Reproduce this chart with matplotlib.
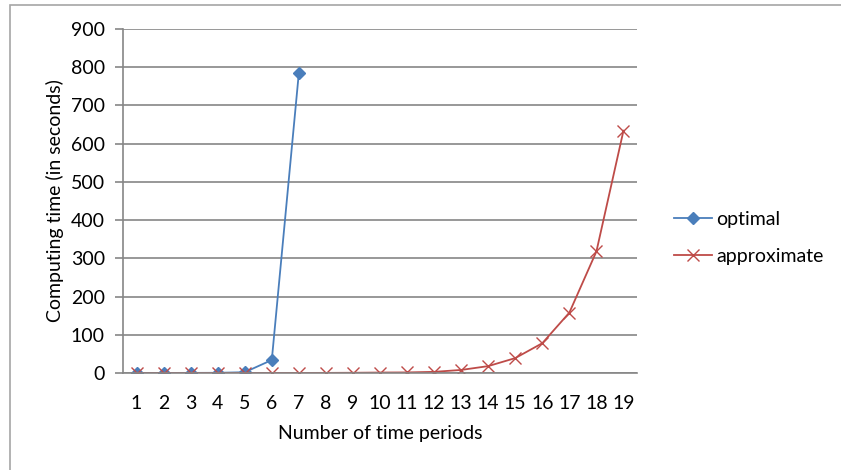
import matplotlib.pyplot as plt
from matplotlib.patches import Rectangle

plt.rcParams['font.family'] = ['Lato', 'DejaVu Sans']

periods = list(range(1, 20))
optimal_periods = [1, 2, 3, 4, 5, 6, 7]
optimal = [0.1, 0.2, 0.3, 0.5, 2, 34, 785]
approximate = [0.0, 0.0, 0.0, 0.0, 0.1, 0.1, 0.2, 0.3, 0.6, 1.2,
               1.5, 3, 8, 18, 39, 78, 158, 318, 634]
yticks = [0, 100, 200, 300, 400, 500, 600, 700, 800, 900]

W, H = 841, 470
fs = 14
fig = plt.figure(figsize=(W / 100, H / 100), dpi=100)
fig.patch.set_facecolor('white')

# chart border
fig.patches.append(Rectangle((10 / W, -0.1), 1.2, 1.1 - 5 / H, transform=fig.transFigure,
                             fill=False, edgecolor='#a6a6a6', linewidth=1.2))

ax = fig.add_axes([123 / W, (H - 373) / H, 514 / W, 344 / H])

ax.plot(optimal_periods, optimal, color='#4a7ebb', linewidth=1.3,
        marker='D', markersize=6.5, label='optimal')
ax.plot(periods, approximate, color='#be4b48', linewidth=1.3,
        marker='x', markersize=9, markeredgewidth=1.0, label='approximate')

ax.set_xlim(0.5, 19.5)
ax.set_ylim(0, 900)
ax.set_xticks(periods)
ax.set_yticks(yticks)
ax.yaxis.grid(True, color='#868686', linewidth=1.2)
ax.set_axisbelow(True)

for s in ['top', 'right']:
    ax.spines[s].set_visible(False)
for s in ['left', 'bottom']:
    ax.spines[s].set_color('#868686')
    ax.spines[s].set_linewidth(1.2)

ax.tick_params(axis='y', length=6, color='#868686', width=1.2, pad=7, labelsize=fs)
ax.tick_params(axis='x', length=0, pad=16, labelsize=fs)

ax.set_xlabel('Number of time periods', fontsize=fs, labelpad=9)
ax.set_ylabel('Computing time (in seconds)', fontsize=fs, labelpad=5)

fig.legend(loc='center left', bbox_to_anchor=(656 / W, (H - 238) / H), frameon=False,
           fontsize=fs, handlelength=2.0, handletextpad=0.2, labelspacing=1.0)

fig.savefig('out.png', dpi=100)
